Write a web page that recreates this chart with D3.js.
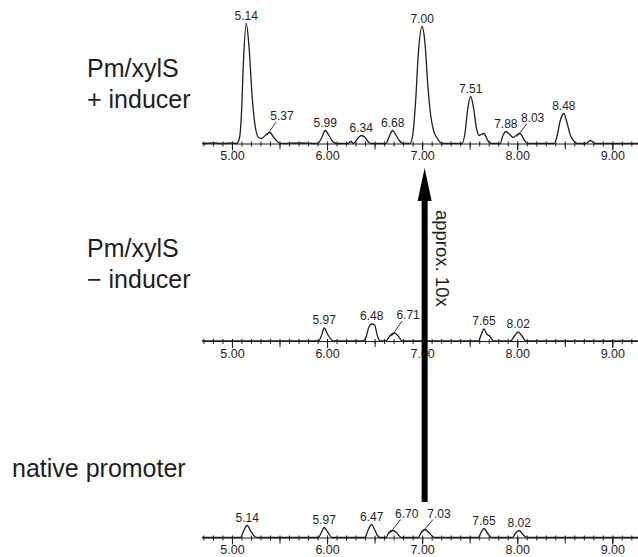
<!DOCTYPE html>
<html>
<head>
<meta charset="utf-8">
<script src="https://cdn.jsdelivr.net/npm/d3@7"></script>
<style>
  body { margin: 0; background: #fff; }
  svg { display: block; font-family: Arial, "Liberation Sans", sans-serif; }
</style>
</head>
<body>
<svg id="chart"></svg>
<script>
// retention time window and axis labels
const timeDomain = [4.685, 9.27];
const tickLabels = ["5.00", "6.00", "7.00", "8.00", "9.00"];

// traces: [retention time, signal]
const induced = [
  [4.685, 0], [4.80, 0.5], [4.90, 0], [5.00, 0.5], [5.05, 0], [5.08, 6], [5.10, 30], [5.12, 80],
  [5.15, 120], [5.18, 96], [5.21, 50], [5.24, 20], [5.28, 6], [5.31, 5], [5.36, 9], [5.40, 11],
  [5.44, 6], [5.49, 1], [5.53, 0], [5.70, 0.5], [5.90, 0], [5.94, 5], [5.98, 13], [6.02, 8],
  [6.06, 2], [6.10, 0], [6.22, 0], [6.25, 2], [6.28, 0], [6.32, 5], [6.36, 8], [6.40, 6],
  [6.44, 1], [6.47, 0], [6.62, 0], [6.65, 6], [6.69, 13], [6.72, 9], [6.76, 3], [6.80, 0],
  [6.87, 0], [6.90, 8], [6.93, 40], [6.96, 90], [7.00, 117], [7.03, 100], [7.06, 58], [7.09, 28],
  [7.12, 13], [7.16, 5], [7.21, 0], [7.42, 0], [7.45, 10], [7.48, 35], [7.51, 47], [7.54, 36],
  [7.57, 16], [7.60, 8], [7.62, 9], [7.65, 10], [7.69, 3], [7.73, 0], [7.82, 0], [7.85, 8],
  [7.88, 12], [7.92, 9], [7.96, 6], [8.00, 9], [8.03, 10], [8.07, 4], [8.11, 0], [8.39, 0],
  [8.42, 8], [8.45, 22], [8.49, 30], [8.52, 22], [8.56, 8], [8.60, 2], [8.63, 0], [8.72, 0],
  [8.77, 3], [8.82, 0], [9.27, 0]
];
const uninduced = [
  [4.685, 0], [5.91, 0], [5.94, 5], [5.97, 13], [6.01, 6], [6.05, 1], [6.08, 0], [6.38, 0],
  [6.41, 4], [6.44, 14], [6.47, 17], [6.50, 16], [6.53, 5], [6.56, 0], [6.62, 0], [6.66, 5],
  [6.71, 8], [6.75, 5], [6.79, 0], [7.59, 0], [7.62, 6], [7.65, 12], [7.68, 7], [7.71, 5],
  [7.74, 1], [7.76, 0], [7.93, 0], [7.97, 5], [8.01, 9], [8.05, 5], [8.09, 0], [9.27, 0]
];
const native = [
  [4.685, 0], [5.09, 0], [5.12, 6], [5.16, 12], [5.20, 6], [5.24, 1], [5.27, 0], [5.91, 0],
  [5.94, 5], [5.97, 10], [6.01, 5], [6.05, 0], [6.40, 0], [6.43, 7], [6.47, 13], [6.50, 8],
  [6.53, 2], [6.56, 0], [6.62, 0], [6.65, 5], [6.69, 7], [6.73, 5], [6.78, 0], [6.96, 0],
  [6.99, 5], [7.03, 8], [7.07, 5], [7.13, 0], [7.59, 0], [7.62, 5], [7.65, 9], [7.69, 4],
  [7.73, 0], [7.95, 0], [7.98, 4], [8.02, 7], [8.06, 3], [8.10, 0], [9.27, 0]
];

// peak annotations
const inducedLabels = ["5.14", "5.37", "5.99", "6.34", "6.68", "7.00", "7.51", "7.88", "8.03", "8.48"];
const uninducedLabels = ["5.97", "6.48", "6.71", "7.65", "8.02"];
const nativeLabels = ["5.14", "5.97", "6.47", "6.70", "7.03", "7.65", "8.02"];

const sampleNames = [["Pm/xylS", "+ inducer"], ["Pm/xylS", "\u2212 inducer"], ["native promoter"]];
const arrowText = "approx. 10x";

// layout
const width = 638, height = 557;
const ink = "#1e1e1e";
const baselines = [143.5, 341, 537.5];
const nameY = [77, 256.5, 476.5];
// labels that sit off to the side with a little leader line: [dx, dy] from apex
const leaders = {
  "0:5.37": [12, -12.5],
  "0:8.03": [12.5, -11.5],
  "1:6.71": [13.5, -14],
  "2:6.70": [14, -13],
  "2:7.03": [14, -12]
};

const svg = d3.select("#chart").attr("width", width).attr("height", height);
svg.append("rect").attr("width", width).attr("height", height).attr("fill", "#fff");

const x = d3.scaleLinear().domain(timeDomain).range([202, 638]);
const y = d3.scaleLinear().domain([0, 120]).range([0, -120]);

const line = d3.line()
  .x(d => x(d[0]))
  .y(d => y(d[1]))
  .curve(d3.curveMonotoneX);

const panels = [
  { trace: induced, labels: inducedLabels },
  { trace: uninduced, labels: uninducedLabels },
  { trace: native, labels: nativeLabels }
];

const apexOf = (trace, t) => {
  const near = trace.filter(d => Math.abs(d[0] - t) <= 0.05);
  return near.reduce((a, b) => (b[1] > a[1] ? b : a), near[0]);
};

panels.forEach((p, i) => {
  const g = svg.append("g").attr("transform", `translate(0, ${baselines[i]})`);

  // ---------- axis ----------
  const minorTicks = d3.range(47, 93).map(k => k / 10);
  const halfTicks = d3.range(5, 9.5, 0.5);
  const majorTicks = tickLabels.map(Number);

  const minor = g.append("g")
    .call(d3.axisBottom(x).tickValues(minorTicks).tickSize(3).tickSizeOuter(0).tickFormat(""));
  minor.selectAll(".tick line").attr("y1", -2);

  g.append("g")
    .call(d3.axisBottom(x).tickValues(halfTicks).tickSize(6).tickSizeOuter(0).tickFormat(""))
    .select(".domain").remove();

  const major = g.append("g")
    .call(d3.axisBottom(x).tickValues(majorTicks).tickSize(7).tickPadding(1).tickSizeOuter(0)
      .tickFormat((d, k) => tickLabels[k]));
  major.select(".domain").remove();

  g.selectAll(".domain, .tick line").attr("stroke", ink).attr("stroke-width", 1);
  g.selectAll(".tick text")
    .attr("fill", ink)
    .attr("font-size", 12.5)
    .attr("font-family", "Arial, 'Liberation Sans', sans-serif");

  // ---------- trace ----------
  g.append("path")
    .datum(p.trace)
    .attr("d", line)
    .attr("fill", "none")
    .attr("stroke", ink)
    .attr("stroke-width", 1.3)
    .attr("stroke-linejoin", "round");

  // ---------- peak labels ----------
  p.labels.forEach(lab => {
    const apex = apexOf(p.trace, +lab);
    const ax = x(apex[0]);
    const ay = y(apex[1]);
    const off = leaders[`${i}:${lab}`];
    const lx = off ? ax + off[0] : ax;
    const ly = off ? ay + off[1] : ay - 4;

    if (off) {
      g.append("line")
        .attr("x1", ax - 3).attr("y1", ay + 3)
        .attr("x2", lx - 6).attr("y2", ly + 2)
        .attr("stroke", ink)
        .attr("stroke-width", 0.9);
    }

    g.append("text")
      .attr("x", lx)
      .attr("y", ly)
      .attr("text-anchor", "middle")
      .attr("font-size", 12)
      .attr("fill", ink)
      .text(lab);
  });
});

// ---------- sample names ----------
sampleNames.forEach((lines, i) => {
  const t = svg.append("text")
    .attr("font-size", 25)
    .attr("fill", ink);
  lines.forEach((s, k) => {
    t.append("tspan")
      .attr("x", lines.length > 1 ? 87 : 12)
      .attr("y", nameY[i] + k * 31)
      .text(s);
  });
});

// ---------- arrow ----------
const arrowX = x(7) + 2.5;
const shaftW = 6, headW = 14;
const tipY = 168, headBase = 201, tailY = 502;
svg.append("path")
  .attr("d", `
    M${arrowX - shaftW / 2} ${tailY}
    L${arrowX - shaftW / 2} ${headBase}
    L${arrowX - headW / 2} ${headBase}
    L${arrowX} ${tipY}
    L${arrowX + headW / 2} ${headBase}
    L${arrowX + shaftW / 2} ${headBase}
    L${arrowX + shaftW / 2} ${tailY} Z
  `)
  .attr("fill", "#000");

svg.append("text")
  .attr("transform", `translate(${arrowX + 11}, 210) rotate(90)`)
  .attr("font-size", 18.5)
  .attr("fill", ink)
  .text(arrowText);
</script>
</body>
</html>
